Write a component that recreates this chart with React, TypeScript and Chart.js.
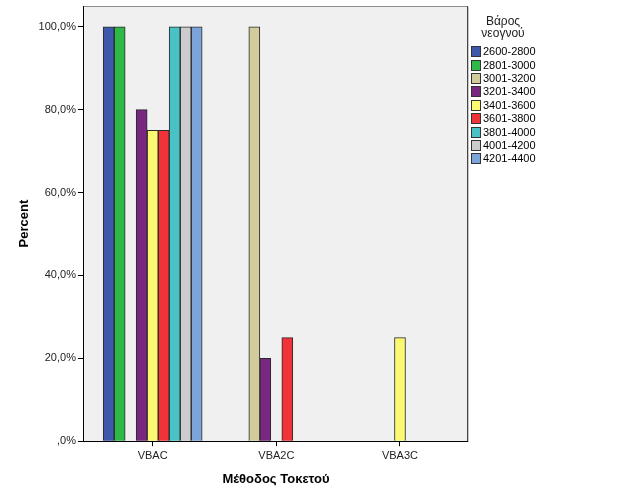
import React, { useEffect, useRef } from "react";
import { Chart, registerables } from "chart.js";

Chart.register(...registerables);

const categories = ["VBAC", "VBA2C", "VBA3C"];
const weightGroups = [
  "2600-2800",
  "2801-3000",
  "3001-3200",
  "3201-3400",
  "3401-3600",
  "3601-3800",
  "3801-4000",
  "4001-4200",
  "4201-4400",
];
// percent per weight group, in category order [VBAC, VBA2C, VBA3C]
const v2600 = [100, null, null];
const v2801 = [100, null, null];
const v3001 = [null, 100, null];
const v3201 = [80, 20, null];
const v3401 = [75, null, 25];
const v3601 = [75, 25, null];
const v3801 = [100, null, null];
const v4001 = [100, null, null];
const v4201 = [100, null, null];
const seriesValues = [v2600, v2801, v3001, v3201, v3401, v3601, v3801, v4001, v4201];
const colors = [
  "#3e58ac",
  "#2eb848",
  "#d2cc9c",
  "#79287f",
  "#fbf872",
  "#ef3338",
  "#48c2c5",
  "#cccccc",
  "#7ba5d9",
];
const yTickValues = [0, 20, 40, 60, 80, 100];
const yTickLabels = [",0%", "20,0%", "40,0%", "60,0%", "80,0%", "100,0%"];
const legendTitle = ["Βάρος", "νεογνού"];
const xTitle = "Μέθοδος Τοκετού";
const yTitle = "Percent";

const bgPlugin = {
  id: "plotBg",
  beforeDraw(chart: any) {
    const { ctx, chartArea } = chart;
    const { left, top, right, bottom } = chartArea;
    ctx.save();
    ctx.fillStyle = "#f0f0f0";
    ctx.fillRect(left, top, right - left, bottom - top);
    ctx.restore();
  },
  afterDraw(chart: any) {
    const { ctx, chartArea } = chart;
    const { left, top, right, bottom } = chartArea;
    ctx.save();
    ctx.lineWidth = 1;
    ctx.strokeStyle = "#8c8c8c";
    ctx.beginPath();
    ctx.moveTo(left, top + 0.5);
    ctx.lineTo(right, top + 0.5);
    ctx.stroke();
    ctx.strokeStyle = "#444444";
    ctx.beginPath();
    ctx.moveTo(right - 0.5, top);
    ctx.lineTo(right - 0.5, bottom);
    ctx.stroke();
    ctx.strokeStyle = "#c8c8c8";
    ctx.beginPath();
    ctx.moveTo(right + 0.5, top + 1);
    ctx.lineTo(right + 0.5, bottom + 1);
    ctx.stroke();
    ctx.restore();
  },
};

export default function App() {
  const ref = useRef<HTMLCanvasElement | null>(null);
  useEffect(() => {
    if (!ref.current) return;
    const chart = new Chart(ref.current, {
      type: "bar",
      data: {
        datasets: weightGroups.map((g, i) => ({
          label: g,
          data: categories.map((_, c) => ({ x: c, y: seriesValues[i][c] })),
          backgroundColor: colors[i],
          borderColor: "#2a2a2a",
          borderWidth: 1,
          borderSkipped: "bottom",
          barThickness: 11,
        })),
      },
      options: {
        animation: false,
        responsive: false,
        maintainAspectRatio: false,
        layout: { padding: { left: 13, right: 158, top: 6, bottom: 10 } },
        plugins: {
          legend: { display: false },
          tooltip: { enabled: false },
        },
        scales: {
          x: {
            type: "linear",
            min: -0.556,
            max: 2.55,
            offset: false,
            afterBuildTicks(scale: any) {
              scale.ticks = categories.map((_, c) => ({ value: c }));
            },
            grid: {
              offset: false,
              drawOnChartArea: false,
              drawTicks: true,
              tickLength: 5,
              color: "#000",
            },
            border: { display: true, color: "#000", width: 1 },
            ticks: {
              color: "#222",
              font: { family: "Arial, 'Liberation Sans'", size: 11 },
              padding: 3,
              callback: (v: any) => categories[Number(v)] ?? "",
            },
            title: {
              display: true,
              text: xTitle,
              color: "#000",
              font: { family: "Arial, 'Liberation Sans'", size: 13, weight: "bold" },
              padding: { top: 6, bottom: 4 },
            },
          },
          y: {
            min: 0,
            max: 105,
            afterBuildTicks(scale: any) {
              scale.ticks = yTickValues.map((v) => ({ value: v }));
            },
            afterFit(scale: any) {
              scale.paddingTop = 0;
            },
            grid: {
              drawOnChartArea: false,
              drawTicks: true,
              tickLength: 6,
              color: "#000",
            },
            border: { display: true, color: "#000", width: 1 },
            ticks: {
              color: "#222",
              font: { family: "Arial, 'Liberation Sans'", size: 11 },
              padding: 2,
              callback: (v: any) => {
                const idx = yTickValues.indexOf(Number(v));
                return idx >= 0 ? yTickLabels[idx] : "";
              },
            },
            title: {
              display: true,
              text: yTitle,
              color: "#000",
              font: { family: "Arial, 'Liberation Sans'", size: 13, weight: "bold" },
              padding: { top: 4, bottom: 4 },
            },
          },
        },
      },
      plugins: [bgPlugin],
    });
    return () => chart.destroy();
  }, []);

  return (
    <div
      style={{
        position: "fixed",
        left: 0,
        top: 0,
        width: 626,
        height: 501,
        background: "#fff",
      }}
    >
      <canvas ref={ref} width={626} height={501} style={{ display: "block" }} />
      <div
        style={{
          position: "absolute",
          left: 470,
          top: 15,
          width: 66,
          textAlign: "center",
          fontFamily: "Arial, 'Liberation Sans', sans-serif",
          fontSize: 12,
          lineHeight: "12px",
          color: "#222",
        }}
      >
        {legendTitle.map((t) => (
          <div key={t}>{t}</div>
        ))}
      </div>
      <div
        style={{
          position: "absolute",
          left: 471,
          top: 45,
          fontFamily: "Arial, 'Liberation Sans', sans-serif",
          fontSize: 11,
          color: "#000",
        }}
      >
        {weightGroups.map((g, i) => (
          <div
            key={g}
            style={{ display: "flex", alignItems: "center", height: 13.4 }}
          >
            <span
              style={{
                display: "inline-block",
                width: 8,
                height: 9,
                background: colors[i],
                border: "1px solid #333",
                marginRight: 2,
              }}
            />
            <span style={{ lineHeight: "13px" }}>{g}</span>
          </div>
        ))}
      </div>
    </div>
  );
}
